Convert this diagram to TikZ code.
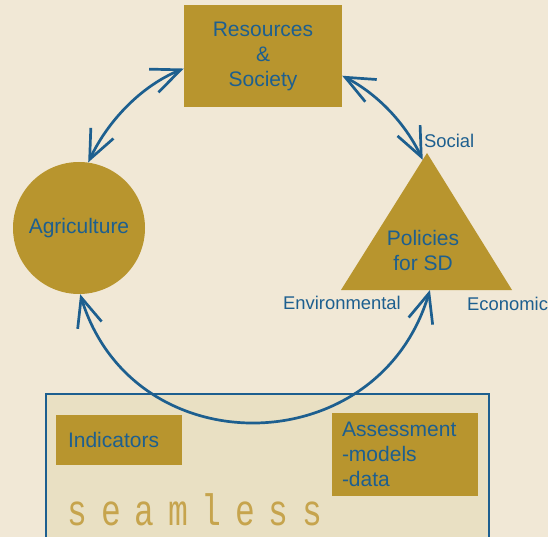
\documentclass[tikz,border=0pt]{standalone}
\usepackage{fontspec}
\usepackage{graphicx}
\setmainfont{Liberation Sans}
\newfontfamily\brandfont{Liberation Mono}
\usetikzlibrary{arrows.meta,calc}

\definecolor{paper}{HTML}{F1E8D6}
\definecolor{gold}{HTML}{B8952E}
\definecolor{ink}{HTML}{1D5F8F}
\definecolor{panel}{HTML}{E9E0C3}
\definecolor{brandc}{HTML}{C6A44D}

\begin{document}
\begin{tikzpicture}[x=1pt,y=1pt,>={Straight Barb[length=29pt,width=25pt]},
  box/.style={fill=gold,text=ink,font=\fontsize{21}{25}\selectfont,inner sep=0pt},
  tag/.style={text=ink,font=\fontsize{18.4}{22}\selectfont,anchor=base,inner sep=0pt},
  brand/.style={text=brandc,font=\brandfont\fontsize{44}{44}\selectfont,anchor=base,inner sep=0pt},
  loop/.style={ink,line width=2.7pt,<->}]
  \clip (0,0) rectangle (548,-537);
  \fill[paper] (0,0) rectangle (548,-537);

  % panel at the bottom, running off the page
  \fill[panel] (46,-394) rectangle (489,-560);
  \draw[ink,line width=2pt] (46,-560) |- (489,-394) -- (489,-560);

  \node[box,minimum width=158pt,minimum height=102pt,align=center] (res) at (263,-56) {Resources\\\&\\Society};
  \node[box,circle,minimum size=132pt] (agri) at (79,-228) {Agriculture};

  % policy triangle and its three pillars
  \coordinate (top) at (427,-153);
  \coordinate (bl) at (341,-290);
  \coordinate (br) at (512,-290);
  \fill[gold] (top) -- (bl) -- (br) -- cycle;
  \node[box,fill=none,align=center] (pol) at (423,-250) {Policies\\for SD};
  \node[tag,anchor=base west] (soc) at (424,-148) {Social};
  \node[tag] (env) at (342,-309) {Environmental};
  \node[tag,anchor=base west] (eco) at (467,-310) {Economic};

  \node[box,align=left,text width=102pt,inner xsep=12pt,minimum height=50pt] (ind) at (119,-440) {Indicators};
  \node[box,align=left,text width=126pt,inner xsep=10pt,minimum height=83pt] (ass) at (405,-454.5) {Assessment\\-models\\-data};

  \foreach \c [count=\i] in {s,e,a,m,l,e,s,s}
    \node[brand] (b\i) at ({77.5+33.5*(\i-1)},-525) {\scalebox{0.75}[1]{\c}};

  % the cycle
  \draw[loop] (agri.82) to[out=64.6,in=202.1,looseness=0.88] (res.189);
  \draw[loop] (res.-14) to[out=-27.3,in=115.4,looseness=0.88] ($(top)!0.05!(bl)$);
  \draw[loop] (agri.-89) to[out=-73,in=-106.6,looseness=1.32] ($(bl)!0.52!(br)$);
\end{tikzpicture}
\end{document}
